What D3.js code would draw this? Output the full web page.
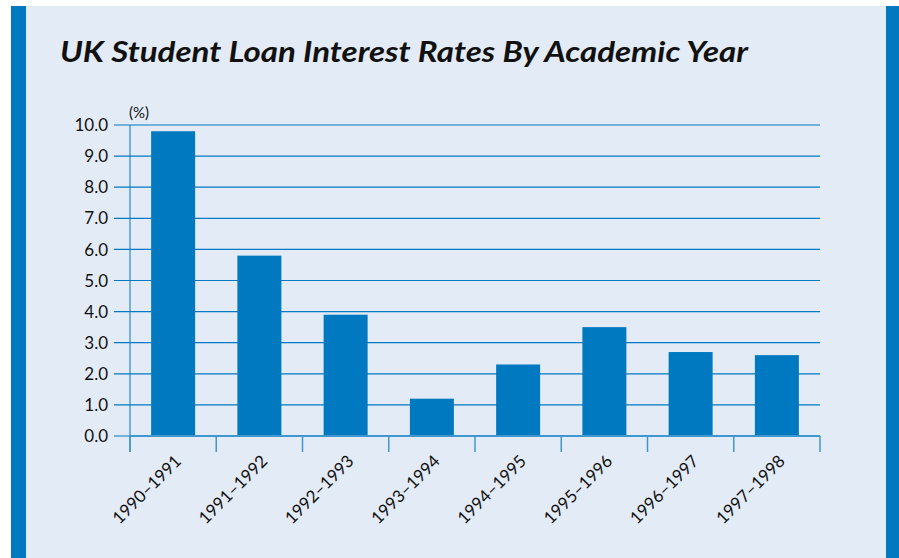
<!DOCTYPE html>
<html>
<head>
<meta charset="utf-8">
<script src="https://cdn.jsdelivr.net/npm/d3@7"></script>
<style>
  body { margin: 0; background: #fff; }
  text { font-family: Lato, "Open Sans", sans-serif; fill: #111; }
</style>
</head>
<body>
<div id="chart"></div>
<script>
// chart data
const years = ["1990–1991", "1991–1992", "1992–1993", "1993–1994",
               "1994–1995", "1995–1996", "1996–1997", "1997–1998"];
const rates = [9.8, 5.8, 3.9, 1.2, 2.3, 3.5, 2.7, 2.6];
const yTicks = [0, 1, 2, 3, 4, 5, 6, 7, 8, 9, 10];

const width = 899;
const height = 558;
const blue = "#0079c1";

const svg = d3.select("#chart")
    .append("svg")
    .attr("width", width)
    .attr("height", height);

// panel + side bars
svg.append("rect").attr("x", 11).attr("y", 6).attr("width", 875).attr("height", height - 6).attr("fill", "#e3ebf6");
svg.append("rect").attr("x", 11).attr("y", 6).attr("width", 15).attr("height", height - 6).attr("fill", blue);
svg.append("rect").attr("x", 886).attr("y", 6).attr("width", 13).attr("height", height - 6).attr("fill", blue);

// title
svg.append("text")
    .attr("x", 60)
    .attr("y", 62)
    .attr("font-size", 29)
    .attr("font-weight", "bold")
    .attr("font-style", "italic")
    .attr("textLength", 688)
    .attr("lengthAdjust", "spacingAndGlyphs")
    .text("UK Student Loan Interest Rates By Academic Year");

const x = d3.scaleBand()
    .domain(years)
    .range([130, 820])
    .paddingInner(0.49)
    .paddingOuter(0.245);

const y = d3.scaleLinear()
    .domain([0, 10])
    .range([436, 125]);

// gridlines
svg.append("g")
    .selectAll("line")
    .data(yTicks)
    .enter().append("line")
    .attr("x1", 114)
    .attr("x2", 820)
    .attr("y1", d => y(d))
    .attr("y2", d => y(d))
    .attr("stroke", blue)
    .attr("stroke-width", 1.2);

// y tick labels
svg.append("g")
    .selectAll("text")
    .data(yTicks)
    .enter().append("text")
    .attr("x", 108)
    .attr("y", d => y(d))
    .attr("dy", "0.36em")
    .attr("text-anchor", "end")
    .attr("font-size", 17)
    .text(d => d.toFixed(1));

svg.append("text")
    .attr("x", 129)
    .attr("y", 118)
    .attr("font-size", 15)
    .text("(%)");

// y axis line
svg.append("line")
    .attr("x1", 130).attr("x2", 130)
    .attr("y1", 125).attr("y2", 452)
    .attr("stroke", blue)
    .attr("stroke-width", 1);

// bars
svg.append("g")
    .selectAll("rect")
    .data(rates)
    .enter().append("rect")
    .attr("x", (d, i) => x(years[i]))
    .attr("y", d => y(d))
    .attr("width", x.bandwidth())
    .attr("height", d => y(0) - y(d))
    .attr("fill", blue);

// x axis with ticks at band edges
svg.append("line")
    .attr("x1", 130).attr("x2", 820)
    .attr("y1", y(0)).attr("y2", y(0))
    .attr("stroke", "#3f97d0")
    .attr("stroke-width", 2);

const step = x.step();
svg.append("g")
    .selectAll("line")
    .data(d3.range(years.length + 1))
    .enter().append("line")
    .attr("x1", i => 130 + i * step)
    .attr("x2", i => 130 + i * step)
    .attr("y1", y(0))
    .attr("y2", 452)
    .attr("stroke", "#3f97d0")
    .attr("stroke-width", 1.5);

// x labels, rotated
svg.append("g")
    .selectAll("text")
    .data(years)
    .enter().append("text")
    .attr("transform", d => `translate(${x(d) + x.bandwidth() / 2 + 5},${458}) rotate(-45)`)
    .attr("text-anchor", "end")
    .attr("dy", "0.35em")
    .attr("font-size", 17)
    .text(d => d);
</script>
</body>
</html>
